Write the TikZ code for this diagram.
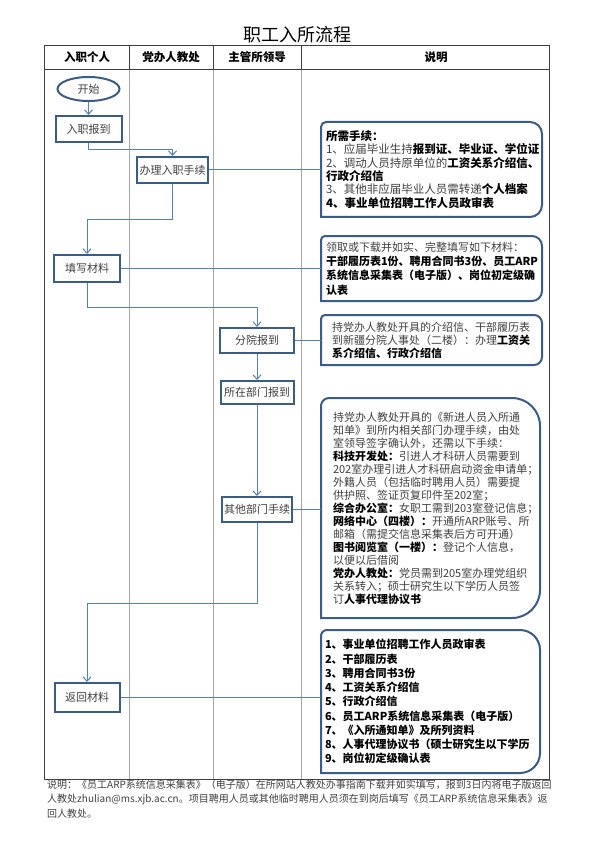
\documentclass[tikz,border=0pt]{standalone}
\usepackage{fontspec}
\setmainfont{Noto Sans CJK SC}
\usetikzlibrary{arrows.meta,shapes.geometric}
\definecolor{boxc}{HTML}{385D8A}
\definecolor{connc}{HTML}{4F81BD}
\definecolor{lanec}{HTML}{A6A6A6}
\definecolor{txtc}{HTML}{404040}
\definecolor{framec}{HTML}{404040}
\newcommand\mybold[1]{{\bfseries\color{black}#1}}
\newcommand\calloutshape[3]{%
  \draw[cobox] (#1.south west) -- ([yshift=-#3]#1.north west)
    arc[start angle=180,end angle=90,radius=#3]
    -- ([xshift=-#2]#1.north east)
    arc[start angle=90,end angle=0,radius=#2]
    -- ([yshift=#2]#1.south east)
    arc[start angle=0,end angle=-90,radius=#2]
    -- cycle;}
\tikzset{
  stepbox/.style={draw=boxc, line width=2pt, fill=white, inner sep=0pt, text=txtc,
    font=\fontsize{11}{13}\selectfont},
  startnode/.style={ellipse, draw=boxc, line width=2pt, fill=white, inner sep=0pt, text=txtc,
    font=\fontsize{11}{13}\selectfont},
  conn/.style={draw=connc, line width=1pt},
  arr/.style={conn, -{Straight Barb[length=4.5pt,width=8pt]}},
  callout/.style={draw=none, outer sep=0pt, inner ysep=0pt, align=left, text=txtc},
  cobox/.style={draw=boxc, line width=2pt},
  frame/.style={draw=framec, line width=1pt},
  lane/.style={draw=lanec, line width=0.6pt},
  headtxt/.style={font=\bfseries\fontsize{11.5}{13}\selectfont, text=black, inner sep=0pt},
}
\begin{document}
\begin{tikzpicture}[x=1pt,y=-1pt]
\useasboundingbox (0,0) rectangle (595,842);
\fill[white] (0,0) rectangle (595,842);

% title
\node[font=\fontsize{18}{20}\selectfont, text=black, inner sep=0pt] (title) at (297,35) {职工入所流程};

% lanes
\draw[lane] (129,70) -- (129,779);
\draw[lane] (213,70) -- (213,779);
\draw[lane] (301,70) -- (301,779);
\draw[frame] (44,46) rectangle (549,779);
\draw[frame] (44,70) -- (549,70);
\draw[frame] (129,46) -- (129,70);
\draw[frame] (213,46) -- (213,70);
\draw[frame] (301,46) -- (301,70);

% header
\node[headtxt] (h1) at (87,57) {入职个人};
\node[headtxt] (h2) at (171,57) {党办人教处};
\node[headtxt] (h3) at (257,57) {主管所领导};
\node[headtxt] (h4) at (436,57) {说明};

% flow nodes
\node[startnode, minimum width=62pt, minimum height=24pt] (start) at (88.5,89) {开始};
\node[stepbox, minimum width=66pt, minimum height=26pt] (rz) at (88.5,129) {入职报到};
\node[stepbox, minimum width=71pt, minimum height=26pt] (bl) at (172.5,170) {办理入职手续};
\node[stepbox, minimum width=66pt, minimum height=27pt] (tx) at (87,268.5) {填写材料};
\node[stepbox, minimum width=74pt, minimum height=25pt] (fy) at (257,340.5) {分院报到};
\node[stepbox, minimum width=73pt, minimum height=23pt] (bm) at (257,392.5) {所在部门报到};
\node[stepbox, minimum width=70pt, minimum height=25pt] (qt) at (257,509.5) {其他部门手续};
\node[stepbox, minimum width=65pt, minimum height=29pt] (fh) at (87,697.5) {返回材料};

% callouts
\node[callout, minimum width=221pt, minimum height=95pt, inner xsep=5pt, text width=211pt,
  font=\fontsize{11.5}{13.3}\selectfont] (c1) at (431.5,169.5) {%
\mybold{所需手续：}\\
1、应届毕业生持\mybold{报到证、毕业证、学位证}\\
2、调动人员持原单位的\mybold{工资关系介绍信、}\\
\mybold{行政介绍信}\\
3、其他非应届毕业人员需转递\mybold{个人档案}\\
\mybold{4、事业单位招聘工作人员政审表}};
\calloutshape{c1}{12pt}{5pt}

\node[callout, minimum width=221pt, minimum height=65pt, inner xsep=5pt, text width=211pt,
  font=\fontsize{11}{14.4}\selectfont] (c2) at (431.5,268.5) {%
领取或下载并如实、完整填写如下材料：\\
\mybold{干部履历表1份、聘用合同书3份、员工ARP}\\
\mybold{系统信息采集表（电子版）、岗位初定级确}\\
\mybold{认表}};
\calloutshape{c2}{10pt}{4pt}

\node[callout, minimum width=221pt, minimum height=50pt, inner xsep=11pt, text width=199pt,
  font=\fontsize{11}{13}\selectfont] (c3) at (431.5,340) {%
持党办人教处开具的介绍信、干部履历表\\
到新疆分院人事处（二楼）：办理\mybold{工资关}\\
\mybold{系介绍信、行政介绍信}};
\calloutshape{c3}{8pt}{4pt}

\node[callout, minimum width=219pt, minimum height=220pt, inner xsep=12pt, text width=195pt,
  font=\fontsize{11}{13}\selectfont] (c4) at (430.5,508) {%
持党办人教处开具的《新进人员入所通\\
知单》到所内相关部门办理手续，由处\\
室领导签字确认外，还需以下手续：\\
\mybold{科技开发处：}引进人才科研人员需要到\\
202室办理引进人才科研启动资金申请单；\\
外籍人员（包括临时聘用人员）需要提\\
供护照、签证页复印件至202室；\\
\mybold{综合办公室：}女职工需到203室登记信息；\\
\mybold{网络中心（四楼）：}开通所ARP账号、所\\
邮箱（需提交信息采集表后方可开通）\\
\mybold{图书阅览室（一楼）：}登记个人信息，\\
以便以后借阅\\
\mybold{党办人教处：}党员需到205室办理党组织\\
关系转入；硕士研究生以下学历人员签\\
订\mybold{人事代理协议书}};
\calloutshape{c4}{28pt}{8pt}

\node[callout, minimum width=219pt, minimum height=143pt, inner xsep=4pt, text width=211pt,
  font=\bfseries\fontsize{11}{14.25}\selectfont, text=black] (c5) at (430.5,701.5) {%
1、事业单位招聘工作人员政审表\\
2、干部履历表\\
3、聘用合同书3份\\
4、工资关系介绍信\\
5、行政介绍信\\
6、员工ARP系统信息采集表（电子版）\\
7、《入所通知单》及所列资料\\
8、人事代理协议书（硕士研究生以下学历\\
9、岗位初定级确认表};
\calloutshape{c5}{20pt}{6pt}

% connectors
\draw[arr] (start.south) -- (rz.north);
\draw[arr] (rz.south) -- ++(0,7) -| (bl.north);
\draw[arr] (bl.south) -- ++(0,36) -| (tx.north);
\draw[arr] (tx.south) -- ++(0,24) -| (fy.north);
\draw[arr] (fy.south) -- (bm.north);
\draw[arr] (bm.south) -- (qt.north);
\draw[arr] (qt.south) -- ++(0,80) -| (fh.north);

\draw[conn] (bl.east) -- (bl.east -| c1.west);
\draw[conn] (tx.east) -- (tx.east -| c2.west);
\draw[conn] (fy.east) -- (fy.east -| c3.west);
\draw[conn] (qt.east) -- (qt.east -| c4.west);
\draw[conn] (fh.east) -- (fh.east -| c5.west);

% footnote
\node[anchor=north west, align=left, inner sep=0pt, text=txtc,
  font=\fontsize{10}{14.2}\selectfont] (note) at (47,780) {%
说明：《员工ARP系统信息采集表》（电子版）在所网站人教处办事指南下载并如实填写，报到3日内将电子版返回\\
人教处zhulian@ms.xjb.ac.cn。项目聘用人员或其他临时聘用人员须在到岗后填写《员工ARP系统信息采集表》返\\
回人教处。};
\end{tikzpicture}
\end{document}
